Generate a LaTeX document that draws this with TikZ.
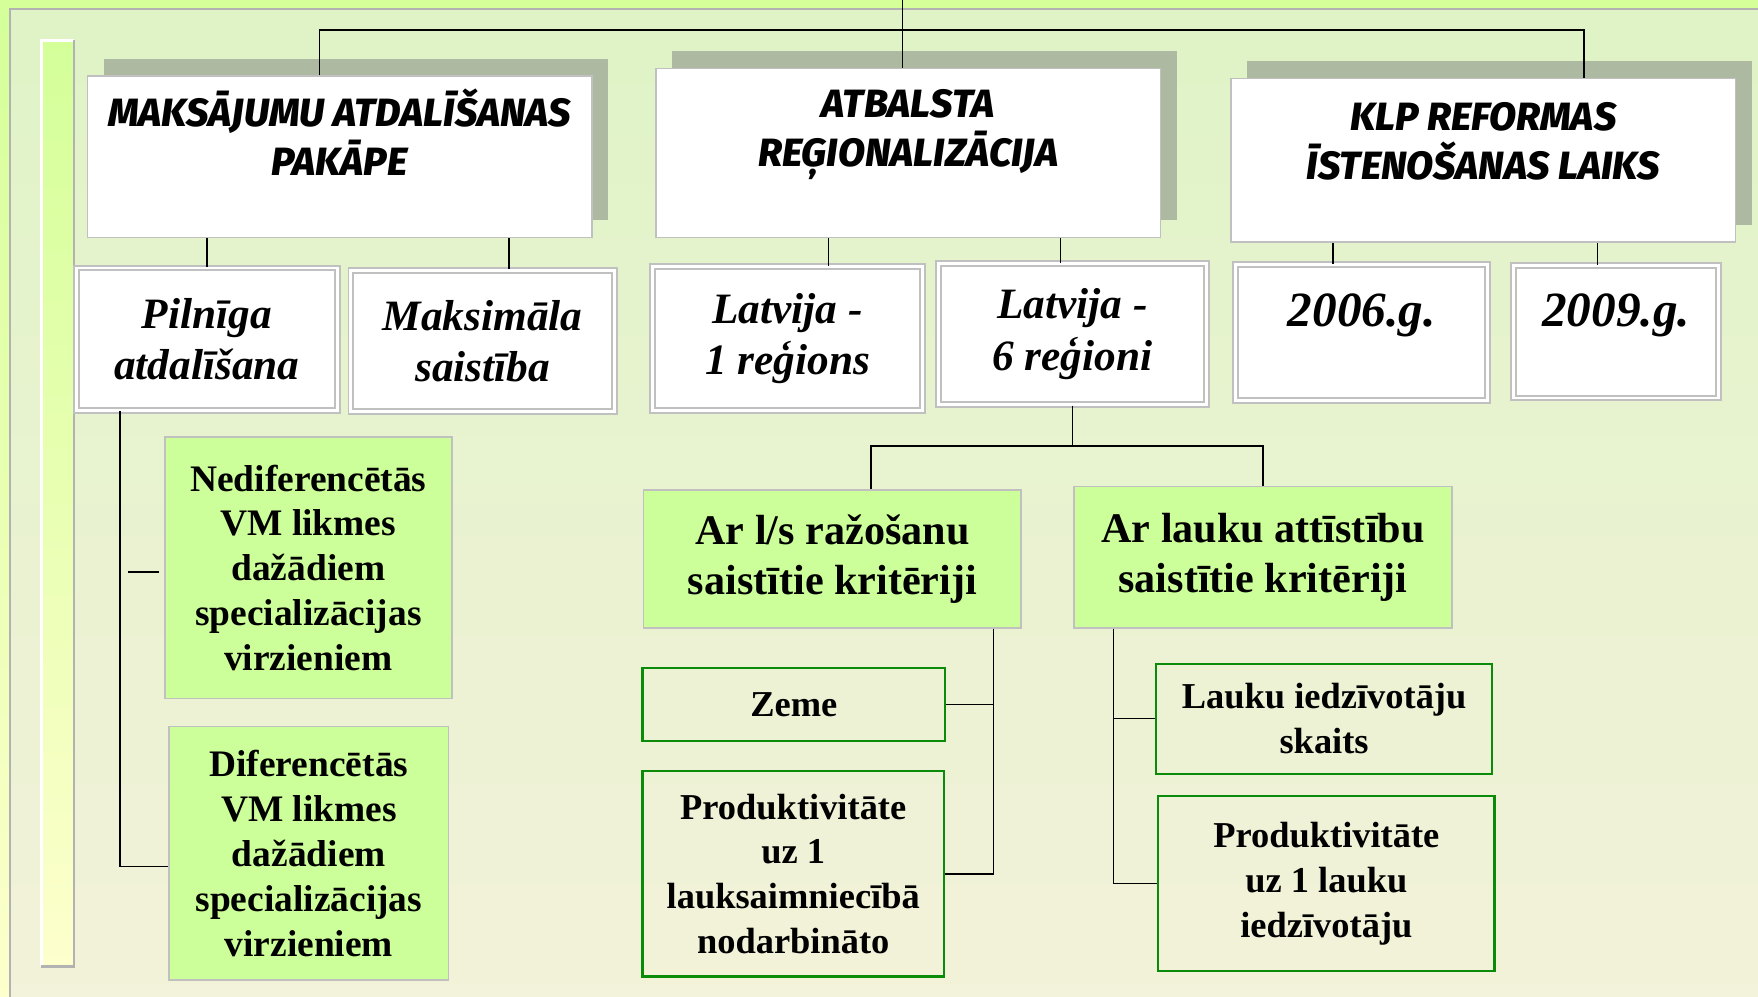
\documentclass[tikz,border=0pt]{standalone}
\usepackage{fontspec}
\setmainfont{Liberation Serif}
\newfontfamily\titrefont{Fira Sans}[BoldItalicFont={Fira Sans ExtraBold Italic}]
\usetikzlibrary{positioning,shadows}
\definecolor{citron}{HTML}{D4FF99}
\definecolor{citronpale}{HTML}{FDFFCC}
\definecolor{fondhaut}{HTML}{DFF3C6}
\definecolor{fondbas}{HTML}{F3F2DA}
\definecolor{ombre}{HTML}{ADB9A1}
\definecolor{gris}{HTML}{C0C0C0}
\definecolor{grisfonce}{HTML}{B2B2B2}
\definecolor{vertclair}{HTML}{CCFF99}
\definecolor{vertfonce}{HTML}{0A8C0A}

\begin{document}
\begin{tikzpicture}[x=0.02cm, y=-0.02cm,
    titre/.style={draw=gris, fill=white, line width=0.8pt, minimum width=9cm,
      general shadow={fill=ombre, shadow xshift=0.29cm, shadow yshift=0.31cm}},
    titretxt/.style={inner sep=0pt, align=center,
      font=\titrefont\fontsize{20}{25}\selectfont\bfseries\itshape},
    choix/.style={draw=gris, double=white, double distance=1.5pt, line width=1pt,
      fill=white, align=center, font=\fontsize{22}{26}\selectfont\bfseries\itshape},
    annee/.style={inner sep=0pt, font=\fontsize{25}{30}\selectfont\bfseries\itshape},
    vertbox/.style={draw=gris, fill=vertclair, line width=0.9pt, align=center},
    critere/.style={draw=vertfonce, line width=1.1pt, align=center,
      font=\fontsize{18.5}{22.8}\selectfont\bfseries},
    lien/.style={line width=0.8pt}]

    % Fond
    \useasboundingbox (0,0) rectangle (1568,889);
    \shade[top color=citron, bottom color=citronpale] (0,0) rectangle (1568,889);
    \shadedraw[top color=fondhaut, bottom color=fondbas, draw=grisfonce,
      line width=1.1pt] (9,8) rectangle (1580,900);
    \shade[top color=citron, bottom color=citronpale] (37,36) rectangle (66,862);
    \draw[white, line width=1.2pt] (37,862) -- (37,36) -- (66,36);
    \draw[grisfonce, line width=1.2pt] (66,36) -- (66,862) -- (37,862);

    % Titres
    \node[titre, minimum height=2.88cm] (maks) at (303,140) {};
    \node[titre, minimum height=3.02cm] (atb) at (810,136.5) {};
    \node[titre, minimum height=2.92cm] (klp) at (1323,143) {};
    \node[titretxt, below=0.23cm of maks.north] (maks-t)
    {\rule{0pt}{19pt}MAKSĀJUMU ATDALĪŠANAS\\PAKĀPE};
    \node[titretxt, below=0.21cm of atb.north] (atb-t)
    {\rule{0pt}{19pt}ATBALSTA\\REĢIONALIZĀCIJA};
    \node[titretxt, below=0.27cm of klp.north] (klp-t)
    {\rule{0pt}{19pt}KLP REFORMAS\\ĪSTENOŠANAS LAIKS};

    % Variantes
    \node[choix, minimum width=4.66cm, minimum height=2.54cm] (pil) at (184.5,302.5)
    {Pilnīga\\atdalīšana};
    \node[choix, minimum width=4.7cm, minimum height=2.52cm] (mak) at (430.5,304)
    {Maksimāla\\saistība};
    \node[choix, minimum width=4.82cm, minimum height=2.56cm] (lv1) at (702.5,302)
    {Latvija -\\1 reģions};
    \node[choix, minimum width=4.78cm, minimum height=2.52cm] (lv6) at (956.5,298)
    {Latvija -\\6 reģioni};
    \node[choix, minimum width=4.5cm, minimum height=2.42cm] (y06) at (1214.5,296.5) {};
    \node[choix, minimum width=3.66cm, minimum height=2.36cm] (y09) at (1441.5,296) {};
    \node[annee, below=0.45cm of y06.north] (y06-t) {\rule{0pt}{19pt}2006.g.};
    \node[annee, below=0.43cm of y09.north] (y09-t) {\rule{0pt}{19pt}2009.g.};

    % Likmes
    \node[vertbox, minimum width=5.12cm, minimum height=4.66cm,
      font=\fontsize{19}{22.8}\selectfont\bfseries] (ned) at (275,506.5)
    {Nediferencētās\\VM likmes\\dažādiem\\specializācijas\\virzieniem};
    \node[vertbox, minimum width=4.98cm, minimum height=4.52cm,
      font=\fontsize{19}{22.8}\selectfont\bfseries] (dif) at (275.5,761)
    {Diferencētās\\VM likmes\\dažādiem\\specializācijas\\virzieniem};

    % Kritēriji
    \node[vertbox, minimum width=6.74cm, minimum height=2.46cm,
      font=\fontsize{21.4}{25.6}\selectfont\bfseries] (crit1) at (742.5,498.5)
    {Ar l/s ražošanu\\saistītie kritēriji};
    \node[vertbox, minimum width=6.74cm, minimum height=2.52cm,
      font=\fontsize{21.4}{25.6}\selectfont\bfseries] (crit2) at (1126.5,497)
    {Ar lauku attīstību\\saistītie kritēriji};
    \node[critere, minimum width=5.4cm, minimum height=1.3cm] (zeme) at (708,628.5)
    {Zeme};
    \node[critere, minimum width=5.38cm, minimum height=3.66cm] (prod1) at (707.5,779.5)
    {Produktivitāte\\uz 1\\lauksaimniecībā\\nodarbināto};
    \node[critere, minimum width=6cm, minimum height=1.96cm] (lauk) at (1181,641)
    {Lauku iedzīvotāju\\skaits};
    \node[critere, minimum width=6cm, minimum height=3.12cm] (prod2) at (1183,788)
    {Produktivitāte\\uz 1 lauku\\iedzīvotāju};

    % Liens
    \coordinate (racine) at (805,0);
    \coordinate (barre) at (805,27);
    \draw[lien] (racine) -- (racine |- atb.north);
    \draw[lien] ([xshift=-0.36cm]maks.north) |- (barre) -| ([xshift=1.8cm]klp.north);
    \draw[lien] (pil.north) -- (pil.north |- maks.south);
    \draw[lien] ([xshift=0.47cm]mak.north) -- ([xshift=0.47cm]mak.north |- maks.south);
    \draw[lien] ([xshift=0.73cm]lv1.north) -- ([xshift=0.73cm]lv1.north |- atb.south);
    \draw[lien] ([xshift=-0.21cm]lv6.north) -- ([xshift=-0.21cm]lv6.north |- atb.south);
    \draw[lien] ([xshift=-0.51cm]y06.north) -- ([xshift=-0.51cm]y06.north |- klp.south);
    \draw[lien] ([xshift=-0.33cm]y09.north) -- ([xshift=-0.33cm]y09.north |- klp.south);

    \draw[lien] ([xshift=-1.55cm]pil.south) |- ([yshift=-0.24cm]dif.west);
    \draw[lien] ([yshift=-0.07cm]ned.west) ++(-4,0) -- ++(-28,0);

    \draw[lien] (lv6.south) -- ++(0,36) coordinate (noeud);
    \draw[lien] ([xshift=0.69cm]crit1.north) |- (noeud) -| (crit2.north);

    \draw[lien] ([xshift=2.87cm]crit1.south) coordinate (c1) |- (prod1.east);
    \draw[lien] (zeme.east) -- (zeme.east -| c1);
    \draw[lien] ([xshift=-2.67cm]crit2.south) coordinate (c2) |- (prod2.west);
    \draw[lien] (lauk.west) -- (lauk.west -| c2);
\end{tikzpicture}
\end{document}
